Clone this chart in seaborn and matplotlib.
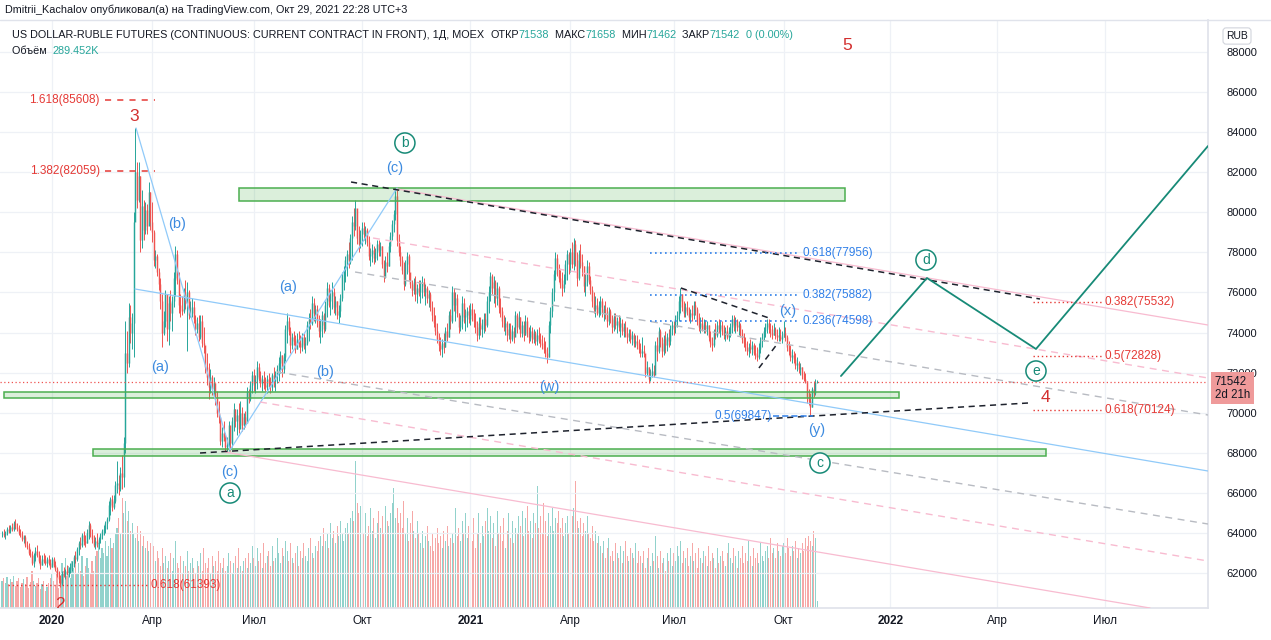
import matplotlib
matplotlib.use("Agg")
import matplotlib.pyplot as plt
from matplotlib.lines import Line2D
from matplotlib.patches import Rectangle
from matplotlib.offsetbox import TextArea, HPacker, AnnotationBbox
import seaborn as sns
import pandas as pd
import numpy as np

# daily bars: (low, high, close, volume in thousands), prices in roubles
bars_2019q4 = [
    (63.8, 64.1, 64.0, 1100), (63.8, 64.2, 63.9, 1200), (63.7, 64.1, 64.0, 1000), (63.9, 64.3, 64.2, 1250),
    (64.0, 64.4, 64.1, 950), (64.0, 64.4, 64.3, 1150), (64.1, 64.5, 64.2, 1050), (64.1, 64.6, 64.5, 1300),
    (64.2, 64.7, 64.3, 900), (64.1, 64.5, 64.2, 1100), (63.9, 64.4, 64.0, 1200), (63.8, 64.2, 63.9, 850),
    (63.6, 64.1, 63.7, 1000), (63.5, 63.9, 63.8, 1150), (63.3, 63.9, 63.4, 950), (63.2, 63.6, 63.3, 1250),
    (62.9, 63.5, 63.0, 800), (62.8, 63.2, 62.9, 1050), (62.4, 63.1, 62.5, 1500), (62.3, 63.0, 62.9, 1100),
    (62.6, 63.3, 63.1, 900), (62.8, 63.4, 62.9, 1000), (62.5, 63.1, 62.6, 1200), (62.2, 62.9, 62.4, 750),
    (62.4, 62.9, 62.7, 950), (62.5, 63.0, 62.6, 1100), (62.4, 62.9, 62.5, 700), (62.3, 62.8, 62.7, 850),
    (62.4, 62.9, 62.5, 1000), (62.2, 62.7, 62.3, 1200),
]
bars_2020q1 = [
    (62.3, 62.8, 62.7, 1400), (62.3, 62.8, 62.4, 1100), (62.1, 62.6, 62.2, 900), (61.8, 62.3, 61.9, 1500),
    (61.5, 62.1, 61.7, 800), (61.3, 61.9, 61.5, 1300), (61.4, 62.1, 62.0, 1800), (61.8, 62.3, 61.9, 1500),
    (61.7, 62.2, 62.1, 2000), (61.9, 62.4, 62.0, 1300), (61.8, 62.3, 62.2, 1700), (62.0, 62.5, 62.3, 1200),
    (62.1, 62.6, 62.5, 1900), (62.3, 62.9, 62.8, 1600), (62.5, 63.1, 62.7, 2200), (62.6, 63.3, 63.2, 1400),
    (62.9, 63.6, 63.5, 1800), (63.2, 63.8, 63.4, 1500), (63.3, 64.0, 63.9, 2100), (63.4, 64.1, 63.6, 1300),
    (63.3, 63.9, 63.5, 1700), (63.5, 64.2, 64.0, 2000), (63.7, 64.6, 64.4, 1600), (63.8, 64.5, 63.9, 1400),
    (63.5, 64.2, 63.7, 1900), (63.3, 63.9, 63.4, 1500), (63.2, 63.8, 63.6, 2100), (63.3, 64.0, 63.5, 2300),
    (63.2, 63.8, 63.7, 2600), (63.5, 64.0, 63.9, 2000), (63.7, 64.2, 64.1, 2400), (63.9, 64.4, 64.2, 2200),
    (64.0, 64.6, 64.5, 2700), (64.2, 64.8, 64.7, 2100), (64.6, 65.6, 65.4, 2500), (64.9, 65.8, 65.7, 2800),
    (65.1, 65.9, 65.3, 2400), (65.2, 65.9, 65.6, 2600), (65.5, 66.6, 66.4, 3000), (66.0, 67.6, 66.5, 3200),
    (65.9, 66.9, 66.2, 3600), (66.1, 67.3, 67.0, 3000), (66.2, 67.9, 66.8, 4400), (66.3, 68.8, 68.5, 3800),
    (68.0, 74.6, 73.0, 4300), (72.0, 74.1, 72.5, 3500), (72.3, 75.5, 74.8, 3900), (73.5, 75.4, 74.0, 3100),
    (73.2, 75.0, 74.5, 3400), (72.8, 80.0, 79.5, 3000), (80.0, 84.2, 82.0, 2800), (80.2, 82.5, 80.6, 3300),
    (80.5, 82.5, 81.8, 2700), (78.0, 81.8, 78.6, 3100), (78.2, 81.1, 80.3, 2500), (78.6, 80.6, 79.1, 2900),
    (78.9, 80.5, 80.1, 2400), (78.9, 80.4, 79.3, 2700), (79.6, 81.5, 81.0, 2300), (79.1, 81.0, 79.5, 2600),
]
bars_2020q2 = [
    (78.5, 80.5, 79.0, 2200), (77.3, 79.1, 77.6, 2500), (77.2, 78.1, 77.8, 1900), (76.8, 77.9, 77.0, 2300),
    (76.1, 77.2, 76.4, 2000), (75.2, 76.7, 75.6, 1700), (73.3, 75.9, 74.0, 2400), (73.9, 75.1, 74.6, 1800),
    (74.3, 76.1, 75.9, 2100), (73.6, 75.9, 74.2, 1600), (73.4, 75.8, 75.5, 1900), (74.6, 76.1, 75.0, 2200),
    (74.1, 75.8, 75.6, 1500), (75.3, 77.0, 76.7, 2000), (75.8, 78.3, 77.9, 2700), (76.4, 78.1, 76.6, 1800),
    (75.0, 77.0, 75.4, 1600), (74.8, 75.9, 75.2, 2100), (74.9, 75.8, 75.1, 1400), (75.0, 76.2, 75.9, 1900),
    (75.2, 76.6, 75.5, 1700), (73.1, 76.5, 76.0, 2300), (74.7, 76.1, 74.9, 1500), (74.8, 75.6, 75.0, 1800),
    (74.8, 75.7, 75.3, 2000), (74.5, 75.6, 74.7, 1600), (73.9, 74.9, 74.2, 1400), (74.0, 74.8, 74.5, 1900),
    (73.6, 74.9, 73.8, 1700), (73.7, 74.9, 74.6, 2200), (73.3, 74.9, 73.5, 1500), (73.0, 74.3, 73.4, 2400),
    (72.0, 73.2, 72.3, 1800), (71.4, 73.0, 71.8, 1600), (70.7, 72.5, 71.3, 2000), (71.0, 72.2, 71.8, 1400),
    (70.9, 71.9, 71.2, 2100), (70.8, 71.8, 71.5, 1700), (70.4, 71.5, 70.8, 1900), (69.8, 71.1, 70.0, 1500),
    (69.5, 70.6, 69.8, 2300), (68.4, 69.8, 68.6, 1800), (68.3, 69.3, 69.0, 1600), (68.6, 69.6, 68.8, 2000),
    (68.1, 69.0, 68.3, 1500), (68.1, 68.8, 68.4, 1700), (68.1, 69.6, 69.4, 2200), (68.1, 69.2, 68.5, 1900),
    (68.3, 69.8, 69.6, 1400), (69.1, 70.5, 70.2, 1800), (69.3, 70.2, 69.6, 2100), (68.9, 70.2, 69.9, 1600),
    (69.0, 70.5, 69.2, 2400), (69.4, 70.6, 70.0, 1700), (69.1, 70.3, 69.4, 1500), (69.2, 70.0, 69.8, 1900),
    (69.3, 70.1, 69.5, 2000), (70.1, 71.3, 71.1, 1600), (70.5, 71.2, 70.7, 2200), (70.6, 71.6, 71.4, 1800),
    (71.0, 72.1, 71.9, 2500),
]
bars_2020q3 = [
    (71.1, 72.2, 71.5, 2000), (71.0, 71.9, 71.7, 1700), (71.2, 72.6, 72.3, 2400), (71.6, 72.5, 71.8, 1900),
    (71.3, 72.1, 71.5, 2200), (71.1, 71.9, 71.7, 1600), (71.2, 72.1, 71.4, 2600), (71.1, 71.8, 71.3, 1800),
    (71.0, 71.9, 71.7, 2100), (71.3, 72.0, 71.5, 2300), (71.0, 71.8, 71.3, 1700), (71.1, 72.0, 71.9, 2500),
    (71.3, 72.3, 71.6, 1900), (71.1, 72.1, 71.9, 2000), (71.5, 72.4, 72.2, 2800), (71.6, 72.8, 72.5, 2200),
    (72.0, 73.1, 72.9, 1800), (71.8, 72.9, 72.2, 2400), (72.0, 73.0, 72.8, 2100), (72.6, 74.4, 74.2, 2700),
    (73.5, 75.0, 74.6, 2300), (73.9, 74.8, 74.1, 1900), (73.0, 74.3, 73.4, 2600), (73.2, 74.0, 73.8, 2000),
    (73.4, 74.1, 73.6, 1800), (73.0, 73.9, 73.2, 2200), (73.2, 74.0, 73.7, 2500), (73.3, 74.1, 73.5, 1700),
    (73.0, 73.9, 73.3, 2300), (73.1, 74.0, 73.8, 2000), (73.2, 74.0, 73.4, 2600), (73.0, 73.8, 73.5, 2100),
    (73.4, 74.6, 74.4, 1900), (73.6, 75.0, 74.7, 2400), (74.2, 75.2, 74.5, 2800), (74.4, 75.8, 75.5, 2200),
    (74.6, 75.7, 75.0, 2000), (74.5, 75.4, 75.2, 2500), (74.3, 75.4, 74.6, 2300), (73.8, 74.9, 74.1, 2700),
    (73.5, 74.7, 74.4, 2900), (73.8, 75.1, 74.9, 2500), (74.0, 75.0, 74.2, 3200), (74.1, 75.6, 75.4, 2700),
    (74.8, 76.5, 76.2, 3000), (75.3, 76.4, 75.6, 2400), (74.9, 76.1, 75.8, 3400), (75.2, 76.5, 76.0, 2800),
    (75.0, 76.2, 75.3, 3100), (74.9, 75.8, 75.6, 2600), (74.7, 75.6, 74.9, 3300), (74.5, 75.4, 75.1, 2900),
    (74.8, 75.9, 75.7, 3500), (75.6, 77.0, 76.8, 3000), (76.1, 77.3, 77.1, 2700), (76.5, 77.8, 77.6, 3200),
    (76.8, 78.1, 77.9, 3400), (77.2, 78.5, 77.5, 3000), (77.4, 78.9, 78.7, 3600), (77.6, 79.8, 79.5, 3900),
    (78.8, 80.2, 79.3, 3500), (79.1, 80.6, 80.2, 5900), (78.4, 80.0, 78.7, 4200), (78.0, 79.3, 78.4, 3800),
    (78.2, 79.1, 78.9, 4100),
]
bars_2020q4 = [
    (78.3, 79.5, 79.2, 3500), (78.6, 79.5, 78.9, 3000), (78.4, 79.3, 79.1, 3800), (78.3, 79.2, 78.5, 2900),
    (77.6, 78.8, 77.8, 3300), (77.3, 78.2, 77.9, 4000), (77.5, 78.4, 78.1, 3100), (77.4, 78.3, 77.7, 3600),
    (77.5, 78.2, 78.0, 2800), (77.6, 78.6, 78.4, 3400), (77.8, 78.6, 78.1, 3900), (77.8, 78.5, 78.3, 3200),
    (77.2, 78.3, 77.4, 3700), (76.5, 77.6, 76.8, 3000), (76.7, 77.8, 77.5, 4100), (77.0, 78.0, 77.3, 3500),
    (77.3, 78.5, 78.3, 3300), (78.0, 79.0, 78.8, 3800), (78.6, 79.6, 79.4, 4200), (79.0, 80.1, 79.9, 4800),
    (79.6, 81.2, 80.8, 3600), (78.3, 81.1, 78.6, 4000), (77.8, 78.9, 78.0, 3400), (77.3, 78.3, 77.6, 3800),
    (76.9, 77.8, 77.1, 3200), (76.1, 77.5, 76.4, 4300), (76.3, 77.6, 77.4, 3000), (76.9, 78.0, 77.8, 3600),
    (76.6, 77.9, 77.0, 2700), (76.2, 76.9, 76.4, 3400), (75.8, 76.6, 76.1, 3900), (75.9, 76.7, 76.5, 3100),
    (75.6, 76.8, 75.9, 2800), (75.5, 76.4, 76.2, 3500), (75.8, 76.6, 76.0, 3000), (75.5, 76.6, 76.3, 2600),
    (75.7, 76.8, 76.5, 3100), (75.8, 76.7, 76.0, 2400), (75.4, 76.4, 76.2, 2900), (75.5, 76.3, 75.7, 3300),
    (75.3, 76.1, 75.9, 2700), (75.1, 76.0, 75.3, 2500), (74.6, 75.6, 74.9, 3000), (74.3, 75.3, 74.5, 2300),
    (73.9, 74.9, 74.1, 2800), (73.5, 74.5, 73.7, 3200), (73.1, 74.0, 73.4, 2600), (72.9, 73.8, 73.2, 2900),
    (72.8, 73.7, 73.5, 2400), (73.0, 74.0, 73.3, 3100), (73.3, 74.3, 74.1, 2700), (73.6, 74.5, 73.8, 3300),
    (73.8, 75.1, 74.9, 2500), (74.2, 75.2, 74.6, 2800), (74.5, 76.3, 76.0, 3000), (75.1, 76.2, 75.4, 2600),
    (74.6, 76.0, 75.7, 4000), (74.8, 75.9, 75.0, 2900), (74.0, 75.0, 74.3, 3200), (74.1, 74.9, 74.6, 2700),
    (74.2, 75.8, 75.5, 3500), (74.5, 75.7, 74.8, 3000), (74.1, 75.2, 74.9, 3800), (74.3, 75.3, 75.1, 2800),
    (74.5, 75.4, 74.7, 3300),
]
bars_2021q1 = [
    (74.4, 75.5, 75.2, 3200), (74.6, 75.5, 74.9, 2700), (74.3, 75.2, 74.6, 3600), (74.0, 75.0, 74.3, 2400),
    (73.6, 74.6, 73.9, 3000), (73.7, 74.8, 74.5, 3800), (73.9, 74.8, 74.2, 2600), (73.8, 74.7, 74.4, 3300),
    (74.0, 75.0, 74.7, 2900), (74.1, 75.0, 74.4, 3500), (74.3, 75.8, 75.6, 4000), (75.0, 76.3, 76.0, 3100),
    (75.6, 77.0, 76.8, 3700), (75.9, 76.9, 76.2, 2800), (75.5, 76.8, 76.5, 3400), (75.3, 76.6, 75.7, 2500),
    (75.4, 76.5, 76.2, 3900), (75.0, 76.3, 75.3, 3000), (74.8, 75.7, 75.1, 3300), (74.3, 75.3, 74.6, 2700),
    (74.1, 74.9, 74.3, 3600), (73.9, 74.8, 74.5, 2400), (73.6, 74.6, 73.9, 3100), (73.7, 74.5, 74.2, 3800),
    (73.5, 74.5, 73.7, 2800), (73.6, 74.4, 74.1, 3500), (73.5, 74.3, 73.8, 2600), (73.9, 75.1, 74.9, 3200),
    (74.0, 75.0, 74.3, 3000), (74.2, 75.1, 74.8, 3700), (73.8, 74.8, 74.0, 3300), (73.8, 74.6, 74.4, 3900),
    (73.6, 74.6, 73.9, 2900), (73.9, 74.9, 74.6, 3600), (73.8, 74.8, 74.0, 4100), (73.5, 74.3, 73.8, 3100),
    (73.6, 74.4, 74.1, 3500), (73.5, 74.3, 73.7, 2800), (73.5, 74.2, 74.0, 3800), (73.4, 74.1, 73.6, 3400),
    (73.4, 74.2, 73.9, 4900), (73.5, 74.3, 73.7, 3200), (73.3, 74.0, 73.5, 3700), (73.2, 73.9, 73.4, 3000),
    (73.0, 73.8, 73.2, 4200), (72.8, 73.6, 73.0, 3500), (72.5, 73.3, 72.8, 2900), (72.8, 74.6, 74.4, 3800),
    (74.0, 75.3, 75.1, 3300), (74.8, 76.2, 76.0, 4000), (75.6, 77.1, 76.9, 3100), (76.6, 78.0, 77.7, 3600),
    (76.8, 77.9, 77.2, 3400), (76.5, 77.4, 76.7, 3900), (76.2, 77.1, 76.4, 3200), (75.8, 77.0, 76.2, 3600),
    (76.0, 76.9, 76.6, 2900), (76.4, 77.6, 77.4, 3400), (76.6, 78.1, 77.9, 3700), (76.9, 78.0, 77.4, 3000),
]
bars_2021q2 = [
    (77.0, 78.2, 78.0, 3300), (77.2, 78.5, 77.4, 3700), (77.1, 78.7, 78.4, 4000), (77.3, 78.6, 77.6, 5100),
    (76.3, 78.0, 76.7, 3500), (76.6, 78.1, 77.9, 3200), (77.2, 78.4, 77.5, 3600), (76.8, 77.9, 77.3, 2900),
    (76.0, 77.3, 76.3, 3400), (75.8, 76.9, 76.5, 3100), (76.3, 77.6, 77.3, 3700), (76.4, 77.5, 76.6, 3000),
    (75.9, 76.8, 76.1, 2800), (75.3, 76.3, 75.6, 3300), (75.0, 76.0, 75.2, 2700), (74.8, 75.8, 75.4, 3100),
    (74.9, 75.7, 75.0, 2600), (74.8, 75.6, 75.3, 2900), (74.9, 75.8, 75.6, 2500), (74.8, 75.7, 75.0, 2200),
    (74.6, 75.4, 75.2, 2700), (74.7, 75.6, 74.9, 2000), (74.3, 75.3, 74.6, 2400), (74.4, 75.3, 75.1, 2800),
    (74.5, 75.2, 74.7, 2100), (74.0, 74.9, 74.3, 2300), (74.1, 75.0, 74.8, 1900), (74.2, 75.0, 74.4, 2600),
    (74.0, 74.8, 74.6, 2200), (74.1, 74.9, 74.3, 2000), (73.8, 74.8, 74.5, 2500), (73.9, 74.7, 74.1, 1800),
    (73.8, 74.5, 74.3, 2300), (73.8, 74.6, 74.0, 2700), (73.5, 74.3, 73.8, 2100), (73.6, 74.2, 74.0, 1900),
    (73.5, 74.2, 73.7, 2400), (73.4, 74.1, 73.9, 2200), (73.3, 74.0, 73.5, 2000), (73.3, 73.9, 73.6, 2600),
    (73.2, 73.9, 73.4, 1800), (73.0, 73.7, 73.2, 2300), (72.8, 73.5, 73.0, 2100), (72.8, 73.8, 73.1, 1800),
    (72.8, 73.4, 73.0, 2300), (71.8, 72.8, 72.0, 1600), (71.9, 72.6, 72.3, 2000), (71.5, 72.3, 71.7, 2400),
    (71.6, 72.2, 71.9, 1700), (71.8, 72.5, 72.1, 2200), (71.8, 72.4, 71.9, 1900), (72.4, 73.6, 73.4, 2900),
    (72.6, 73.8, 73.1, 2100), (73.0, 74.3, 74.1, 1600), (73.3, 74.2, 73.5, 2300), (72.8, 73.8, 73.1, 1800),
    (72.9, 73.9, 73.7, 2000), (73.0, 74.1, 73.4, 1500), (73.1, 74.0, 73.8, 2200), (73.3, 74.2, 73.6, 1900),
    (73.4, 74.4, 74.2, 2400), (73.9, 74.6, 74.4, 1700),
]
bars_2021q3 = [
    (73.9, 74.6, 74.3, 2200), (74.0, 74.9, 74.7, 1900), (74.3, 75.1, 74.9, 2500), (74.6, 75.8, 75.6, 2100),
    (75.0, 76.2, 75.9, 2700), (75.1, 75.9, 75.3, 1800), (74.8, 75.6, 75.0, 2300), (74.8, 75.5, 75.3, 2000),
    (74.9, 75.6, 75.1, 2400), (74.6, 75.3, 74.8, 1700), (74.5, 75.2, 75.0, 2100), (74.6, 75.4, 74.9, 2600),
    (74.7, 75.6, 75.4, 1900), (74.9, 75.6, 75.2, 2200), (74.4, 75.3, 74.6, 1600), (74.1, 75.0, 74.3, 2400),
    (74.0, 74.8, 74.5, 2000), (74.1, 74.8, 74.2, 1800), (74.0, 74.7, 74.4, 2300), (74.0, 74.6, 74.2, 2100),
    (73.9, 74.6, 74.4, 1700), (73.6, 74.4, 73.8, 2500), (73.3, 74.1, 73.5, 1900), (73.1, 73.8, 73.4, 2200),
    (73.3, 74.2, 74.0, 2000), (73.7, 74.5, 73.9, 1600), (73.8, 74.6, 74.4, 2400), (74.0, 74.7, 74.2, 1800),
    (73.8, 74.6, 74.4, 2100), (73.9, 74.6, 74.1, 2300), (73.7, 74.4, 73.9, 1900), (73.6, 74.3, 74.1, 1700),
    (73.7, 74.4, 73.8, 2200), (73.6, 74.3, 74.0, 2600), (73.8, 74.5, 74.3, 2000), (74.0, 74.9, 74.7, 1800),
    (74.1, 74.9, 74.4, 2400), (74.0, 74.8, 74.6, 2100), (74.1, 74.7, 74.3, 1600), (73.9, 74.6, 74.4, 2300),
    (73.8, 74.5, 74.0, 2000), (73.5, 74.2, 73.7, 2500), (73.3, 74.0, 73.5, 1800), (73.1, 73.8, 73.3, 2200),
    (72.9, 73.6, 73.1, 1900), (72.8, 73.5, 73.3, 2700), (73.0, 73.7, 73.2, 2100), (72.9, 73.6, 73.4, 1700),
    (72.9, 73.5, 73.0, 2400), (72.7, 73.4, 72.9, 2000), (72.6, 73.3, 72.8, 2200), (72.7, 73.5, 73.2, 1800),
    (73.0, 73.8, 73.6, 2600), (73.3, 74.0, 73.8, 2100), (73.6, 74.3, 74.1, 1900), (73.8, 74.5, 74.3, 2300),
    (74.0, 74.7, 74.5, 2500), (74.0, 74.7, 74.2, 2000), (73.8, 74.5, 74.0, 2800), (73.7, 74.4, 73.9, 2200),
    (73.9, 74.5, 74.2, 2400), (73.7, 74.3, 73.9, 2000), (73.6, 74.2, 73.8, 2600), (73.6, 74.3, 73.9, 2300),
    (73.6, 74.2, 73.7, 2100), (73.5, 74.1, 73.8, 2500),
]
bars_2021q4 = [
    (73.8, 74.6, 74.0, 2600), (73.6, 74.3, 73.8, 2200), (73.1, 73.9, 73.3, 2800), (72.9, 73.6, 73.1, 2400),
    (72.6, 73.4, 72.8, 2100), (72.5, 73.2, 72.9, 2500), (72.5, 73.1, 72.7, 2300), (72.2, 73.0, 72.4, 2700),
    (72.1, 72.8, 72.5, 2000), (72.0, 72.6, 72.2, 2400), (71.9, 72.5, 72.3, 2200), (71.7, 72.3, 71.9, 2600),
    (71.6, 72.1, 71.7, 2300), (71.5, 72.0, 71.6, 2800), (70.5, 71.6, 70.8, 2500), (70.4, 71.2, 70.6, 2900),
    (69.9, 71.0, 70.3, 2700), (70.3, 71.3, 71.2, 2500), (70.8, 71.6, 71.0, 3100), (70.9, 71.7, 71.538, 2800),
    (71.462, 71.658, 71.542, 289.452),
]

moex_holidays = ['2020-01-01', '2020-01-02', '2020-01-07', '2020-02-24', '2020-03-09', '2020-05-01',
                 '2020-05-11', '2020-06-12', '2020-06-24', '2020-07-01', '2020-11-04', '2021-01-01',
                 '2021-01-07', '2021-02-23', '2021-03-08', '2021-05-03', '2021-05-10', '2021-06-14',
                 '2021-11-04', '2021-11-05']
month_ru = {4: 'Апр', 7: 'Июл', 10: 'Окт'}

# drawings: (bar number, price) pairs
black_dashed = [(209.4, 81513, 622.7, 75675), (118.8, 67990, 615.5, 70485),
                (407.3, 76224, 461.9, 74677), (454.1, 72232, 465.5, 73479)]
blue_lines = [(80.4, 84208, 136.8, 68140), (136.8, 68140, 237.0, 81214), (79.8, 76174, 723.5, 67092)]
pink_lines = [(237.0, 81164, 723.5, 74377), (133.8, 68040, 688.7, 60256)]
pink_dashed = [(222.6, 78719, 723.5, 71733), (154.8, 70535, 723.5, 62601)]
gray_dashed = [(211.8, 77022, 723.5, 69886), (165.0, 72032, 723.5, 64447)]
zones = [(142.2, 505.7, 80570, 81210), (1.2, 538.1, 70730, 71030), (54.6, 626.3, 67840, 68190)]
path_x = [503.3, 554.9, 620.3, 723.5]
path_y = [71832, 76723, 73180, 83309]

blue_fibs = [('0.618', 77956), ('0.382', 75882), ('0.236', 74598)]
red_fibs = [('0.382', 75532), ('0.5', 72828), ('0.618', 70124)]
left_fibs = [('1.618', 85608), ('1.382', 82059)]
low_fib = ('0.618', 61393)
y_fib = ('0.5', 69847)
last_price = 71542

waves_red = [('5', 506.9, 88349), ('3', 79.2, 84757), ('2', 34.8, 60455), ('4', 625.7, 70735)]
waves_blue = [('(b)', 105.0, 79417), ('(a)', 94.8, 72281), ('(c)', 136.8, 67042), ('(a)', 171.6, 76273),
              ('(b)', 193.8, 72032), ('(c)', 235.8, 82212), ('(w)', 328.1, 71283), ('(x)', 471.5, 75076),
              ('(y)', 488.9, 69138)]
waves_circled = [('a', 136.8, 65994), ('b', 241.7, 83459), ('c', 490.7, 67491), ('d', 554.3, 77621),
                 ('e', 620.3, 72082)]

UP, DOWN = '#26a69a', '#ef5350'
BLUE, RED, TEAL = '#2f7fe8', '#e53935', '#178a77'
TXT = '#131722'

sns.set_theme(style='white')
plt.rcParams['font.family'] = ['Liberation Sans', 'DejaVu Sans']

bars = pd.DataFrame(bars_2019q4 + bars_2020q1 + bars_2020q2 + bars_2020q3 + bars_2020q4 +
                    bars_2021q1 + bars_2021q2 + bars_2021q3 + bars_2021q4,
                    columns=['low', 'high', 'close', 'volume'])
bars[['low', 'high', 'close']] *= 1000
bars['open'] = bars['close'].shift(1).fillna(bars['close'])
bars['x'] = np.arange(len(bars))
up = bars['close'] >= bars['open']
colors = np.where(up, UP, DOWN)

days = pd.bdate_range('2019-11-20', periods=760, freq='C', holidays=moex_holidays)

fig = plt.figure(figsize=(12.71, 6.40), dpi=100, facecolor='white')
ax2 = fig.add_axes([0, 32 / 640, 1208 / 1271, 588 / 640])
ax = fig.add_axes([0, 32 / 640, 1208 / 1271, 588 / 640], sharex=ax2)
ax.set_zorder(ax2.get_zorder() + 1)
ax.patch.set_visible(False)

# volume
ax2.bar(bars['x'], bars['volume'], width=0.62, color=colors, alpha=0.5, linewidth=0)
ax2.set_ylim(0, 23520)
ax2.axis('off')

# candles
ax.vlines(bars['x'], bars['low'], bars['high'], colors=colors, lw=0.7, zorder=3)
ax.vlines(bars['x'], bars[['open', 'close']].min(axis=1), bars[['open', 'close']].max(axis=1),
          colors=colors, lw=1.05, zorder=3)

ax.set_xlim(-1.2, 723.5)
ax.set_ylim(60256, 89597)

# grid + ticks
pos = np.arange(len(days))
newmon = np.r_[True, days.month[1:] != days.month[:-1]]
sel = newmon & np.isin(days.month, [1, 4, 7, 10]) & (pos < 723)
tick_pos = pos[sel]
tick_lab = [str(d.year) if d.month == 1 else month_ru[d.month] for d in days[sel]]
ax.set_xticks(tick_pos)
ax.set_xticklabels(tick_lab)
for t, d in zip(ax.get_xticklabels(), days[sel]):
    if d.month == 1:
        t.set_fontweight('bold')
ax.set_yticks(np.arange(62000, 88001, 2000))
ax.yaxis.tick_right()
ax.tick_params(axis='y', length=0, pad=13, labelsize=8, colors=TXT)
ax.tick_params(axis='x', length=0, pad=5, labelsize=8.5, colors=TXT)
ax.grid(True, color='#eef1f6', lw=0.9, zorder=0)
for s in ['top', 'left']:
    ax.spines[s].set_visible(False)
for s in ['right', 'bottom']:
    ax.spines[s].set_color('#e0e3eb')

# zones
for x0, x1, p0, p1 in zones:
    ax.add_patch(Rectangle((x0, p0), x1 - x0, p1 - p0, fc=(0.30, 0.69, 0.31, 0.2), ec='#4caf50',
                           lw=1.1, zorder=4))

# trend lines
for x0, p0, x1, p1 in blue_lines:
    ax.plot([x0, x1], [p0, p1], color='#90caf9', lw=0.9, zorder=4)
for x0, p0, x1, p1 in pink_lines:
    ax.plot([x0, x1], [p0, p1], color='#f8bbd0', lw=0.9, zorder=4)
for x0, p0, x1, p1 in pink_dashed:
    ax.plot([x0, x1], [p0, p1], color='#f8bbd0', lw=1.0, dashes=(5, 4), zorder=4)
for x0, p0, x1, p1 in gray_dashed:
    ax.plot([x0, x1], [p0, p1], color='#b8bbc2', lw=1.0, dashes=(5, 4), zorder=4)
for x0, p0, x1, p1 in black_dashed:
    ax.plot([x0, x1], [p0, p1], color='#1e222d', lw=1.1, dashes=(4, 3), zorder=5)

# projected path
sns.lineplot(x=path_x, y=path_y, sort=False, color=TEAL, lw=1.3, ax=ax, zorder=6)

# last price line
ax.axhline(last_price, color=DOWN, lw=0.9, ls=(0, (1, 2)), zorder=4)

# fib levels
for lab, p in blue_fibs:
    ax.hlines(p, 388.7, 477.5, color=BLUE, lw=1.2, ls=(0, (1, 2)), zorder=5)
    ax.text(480, p, f'{lab}({p})', color=BLUE, fontsize=8.5, va='center', ha='left', zorder=7)
ax.hlines(y_fib[1], 462.5, 486.5, color=BLUE, lw=1.1, ls=(0, (4, 2)), zorder=5)
ax.text(462, y_fib[1], f'{y_fib[0]}({y_fib[1]})', color=BLUE, fontsize=8.5, va='center', ha='right', zorder=7)
for lab, p in red_fibs:
    ax.hlines(p, 618.5, 659.9, color=RED, lw=1.0, ls=(0, (1, 2)), zorder=5)
    ax.text(661.7, p, f'{lab}({p})', color=RED, fontsize=8.5, va='center', ha='left', zorder=7)
for lab, p in left_fibs:
    ax.hlines(p, 61.8, 91.8, color=RED, lw=1.1, ls=(0, (4, 4)), zorder=5)
    ax.text(58.8, p, f'{lab}({p})', color=RED, fontsize=8.5, va='center', ha='right', zorder=7)
ax.hlines(low_fib[1], 3.6, 87.0, color=RED, lw=1.0, ls=(0, (1, 2)), zorder=5)
ax.text(88.8, low_fib[1], f'{low_fib[0]}({low_fib[1]})', color=RED, fontsize=8.5, va='center', ha='left',
        zorder=7)

# wave labels
for lab, x, p in waves_red:
    ax.text(x, p, lab, color='#d32f2f', fontsize=12.5, ha='center', va='center', zorder=8, clip_on=True)
for lab, x, p in waves_blue:
    ax.text(x, p, lab, color='#3d8be0', fontsize=10.5, ha='center', va='center', zorder=8)
for lab, x, p in waves_circled:
    ax.text(x, p, lab, color=TEAL, fontsize=10, ha='center', va='center', zorder=8,
            bbox=dict(boxstyle='circle,pad=0.22', fc='white', ec=TEAL, lw=1.1))

# price tag + currency box
ax.annotate(f'{last_price}\n2d 21h', xy=(1.0, last_price), xycoords=('axes fraction', 'data'),
            xytext=(5.0, -4.6), textcoords='offset points', ha='left', va='center', fontsize=8.3,
            color=TXT, linespacing=1.1, annotation_clip=False, zorder=10,
            bbox=dict(boxstyle='square,pad=0.32', fc='#ef9a9a', ec='none'))
fig.text(1237 / 1271, 1 - 36 / 640, 'RUB', ha='center', va='center', fontsize=7.5, color=TXT,
         bbox=dict(boxstyle='round,pad=0.3', fc='white', ec='#d1d4dc', lw=0.8))

# header and legend
fig.text(5 / 1271, 1 - 10 / 640, 'Dmitrii_Kachalov опубликовал(а) на TradingView.com, Окт 29, 2021 22:28 UTC+3',
         fontsize=7.8, color=TXT, va='center', ha='left')
fig.add_artist(Line2D([0, 1], [1 - 20 / 640] * 2, transform=fig.transFigure, color='#e0e3eb', lw=1))

legend_rows = [
    [('US DOLLAR-RUBLE FUTURES (CONTINUOUS: CURRENT CONTRACT IN FRONT), 1Д, MOEX  ', TXT), ('ОТКР', TXT),
     ('71538', UP), ('  МАКС', TXT), ('71658', UP), ('  МИН', TXT), ('71462', UP), ('  ЗАКР', TXT),
     ('71542', UP), ('  0 (0.00%)', UP)],
    [('Объём  ', TXT), ('289.452K', UP)],
]
for row, ypix in zip(legend_rows, [605, 589]):
    parts = [TextArea(s, textprops=dict(color=c, fontsize=7.8)) for s, c in row]
    box = HPacker(children=parts, pad=0, sep=0)
    fig.add_artist(AnnotationBbox(box, (12, ypix), xycoords='figure pixels', box_alignment=(0, 0.5),
                                  frameon=False))

fig.savefig('out.png', dpi=100, facecolor='white')
